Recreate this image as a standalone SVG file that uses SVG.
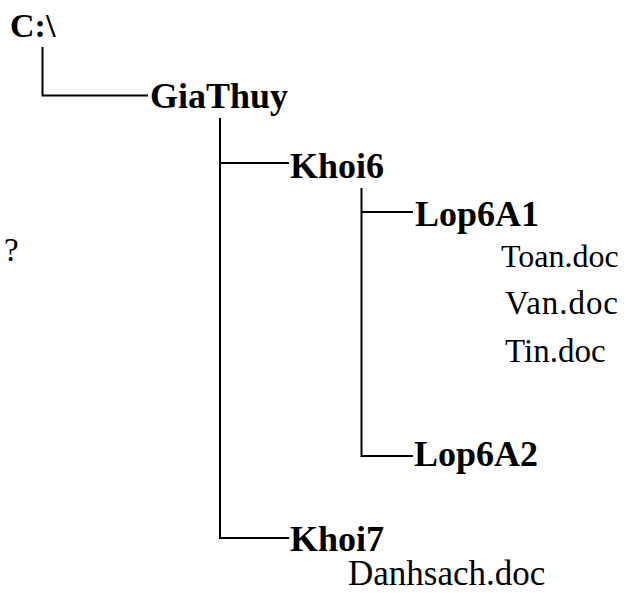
<svg xmlns="http://www.w3.org/2000/svg" width="630" height="593" viewBox="0 0 630 593">
<style>
.b{font-family:"Liberation Serif","Times New Roman",serif;font-weight:bold;font-size:36px;fill:#000}
.r{font-family:"Liberation Serif","Times New Roman",serif;font-size:33px;fill:#000}
.c{fill:none;stroke:#000;stroke-width:2}
</style>
<rect width="630" height="593" fill="#fff"/>
<g id="connectors">
<path class="c" d="M42.5 47V95.5H148"/>
<path class="c" d="M220 118V538H289M220 163H289"/>
<path class="c" d="M361.5 188V456H413M361.5 212H413"/>
</g>
<g id="root"><text class="b" x="10" y="37" style="font-size:34px">C:\</text></g>
<g id="giathuy"><text class="b" x="150" y="108">GiaThuy</text></g>
<g id="khoi6"><text class="b" x="290" y="178">Khoi6</text></g>
<g id="lop6a1"><text class="b" x="415" y="226">Lop6A1</text></g>
<g id="toan"><text class="r" x="501" y="267" style="font-size:32px">Toan.doc</text></g>
<g id="van"><text class="r" x="505" y="314" textLength="113" lengthAdjust="spacing">Van.doc</text></g>
<g id="tin"><text class="r" x="505" y="362">Tin.doc</text></g>
<g id="lop6a2"><text class="b" x="414" y="466">Lop6A2</text></g>
<g id="khoi7"><text class="b" x="290" y="551">Khoi7</text></g>
<g id="danhsach"><text class="r" x="348" y="585" style="font-size:35px">Danhsach.doc</text></g>
<g id="q"><text class="r" x="4" y="261">?</text></g>
</svg>
